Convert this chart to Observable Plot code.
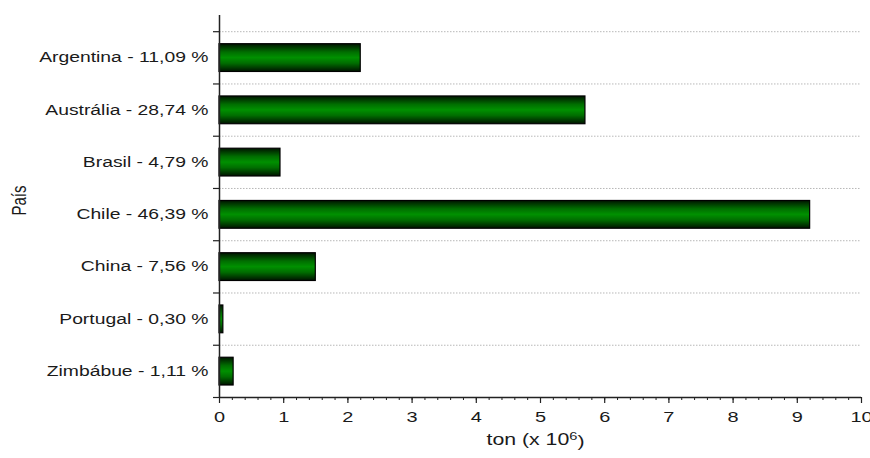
<!DOCTYPE html>
<html>
<head>
<meta charset="utf-8">
<script src="https://cdn.jsdelivr.net/npm/d3@7"></script>
<script src="https://cdn.jsdelivr.net/npm/@observablehq/plot@0.6"></script>
<style>
  html, body { margin: 0; padding: 0; background: #fff; }
</style>
</head>
<body>
<div id="chart"></div>
<script>
const countries = ["Argentina", "Austrália", "Brasil", "Chile", "China", "Portugal", "Zimbábue"];
const percents = ["11,09", "28,74", "4,79", "46,39", "7,56", "0,30", "1,11"];
const values = [2.2, 5.7, 0.95, 9.2, 1.5, 0.06, 0.22];
const xTicks = [0, 1, 2, 3, 4, 5, 6, 7, 8, 9, 10];

const rows = countries.map((c, i) => ({country: c, pct: percents[i], value: values[i], i}));
const boundaries = d3.range(0, countries.length + 1);
const centers = countries.map((c, i) => i + 0.5);
const minor = d3.range(0, 50 + 1).map(k => k / 5);

const plot = Plot.plot({
  width: 870,
  height: 458,
  marginLeft: 219,
  marginRight: 9,
  marginTop: 15,
  marginBottom: 61,
  style: {fontFamily: "Liberation Sans, Arial, sans-serif", fontSize: "14px", color: "#1a1a1a", background: "#fff"},
  x: {domain: [0, 10]},
  y: {domain: [countries.length, -0.31]},
  marks: [
    Plot.ruleY(boundaries.slice(0, countries.length), {x1: 0, x2: 10, stroke: "#b8b8b8", strokeDasharray: "1.5,1.5", strokeWidth: 1}),
    Plot.rectX(rows, {
      x1: 0, x2: "value",
      y1: d => d.i, y2: d => d.i + 1,
      insetTop: 12.5, insetBottom: 12,
      fill: "url(#barGrad)", stroke: "#000", strokeWidth: 1.2
    }),
    Plot.ruleX([0], {stroke: "#222", strokeWidth: 1.5}),
    Plot.ruleY([countries.length], {x1: 0, x2: 10, stroke: "#222", strokeWidth: 1.5}),
    Plot.axisY(boundaries, {tickSize: 6, tickFormat: () => "", stroke: "#222", strokeWidth: 1.2, label: null}),
    Plot.axisY(centers, {
      tickSize: 0, tickPadding: 11, label: null, fontSize: 14,
      tickFormat: v => { const r = rows[Math.floor(v)]; return `${r.country} - ${r.pct} %`; }
    }),
    Plot.axisX(minor, {tickSize: 3, tickFormat: () => "", stroke: "#222", label: null}),
    Plot.axisX(xTicks, {tickSize: 6, tickPadding: 8, fontSize: 15, stroke: "#222", strokeWidth: 1.2, label: null, tickFormat: d => String(d)}),
    Plot.text(["ton (x 10"], {frameAnchor: "bottom", dy: 47, fontSize: 16, dx: -5}),
    Plot.text(["País"], {frameAnchor: "left", textAnchor: "middle", dx: -200, dy: -6, rotate: -90, fontSize: 20})
  ]
});

const svg = d3.select(plot);
const grad = svg.insert("defs", ":first-child")
  .append("linearGradient")
  .attr("id", "barGrad")
  .attr("x1", 0).attr("y1", 0).attr("x2", 0).attr("y2", 1);
[[0, "#001400"], [0.3, "#006e00"], [0.5, "#009000"], [0.7, "#006e00"], [1, "#001400"]].forEach(([o, c]) => {
  grad.append("stop").attr("offset", o).attr("stop-color", c);
});

svg.selectAll("g[aria-label='x-axis tick label'] text").style("font-size", "15px");

// x title with real superscript
svg.selectAll("text").filter(function() { return this.textContent === "ton (x 10"; }).each(function() {
  const t = d3.select(this);
  t.append("tspan").attr("dy", "-0.45em").attr("font-size", "11px").text("6");
  t.append("tspan").attr("dy", "0.45em").text(")");
});

document.getElementById("chart").appendChild(plot);

// the reference's lettering is horizontally wide: stretch horizontal texts,
// and for the rotated title compress its length instead
svg.selectAll("text").each(function() {
  const len = this.getComputedTextLength();
  if (!(len > 0)) return;
  let stretch;
  if (this.textContent === "País") stretch = 0.75;
  else if (this.textContent.includes("%")) stretch = 1.38;
  else stretch = 1.33;
  d3.select(this).attr("textLength", len * stretch).attr("lengthAdjust", "spacingAndGlyphs");
});
</script>
</body>
</html>
